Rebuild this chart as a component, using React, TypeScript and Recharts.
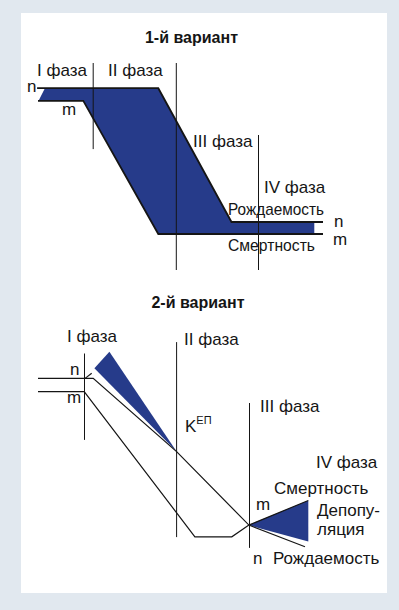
import React from 'react'
import { ComposedChart, Line, Area, XAxis, YAxis, ReferenceLine } from 'recharts'

// t = time (conventional units), rate = birth / death rate (conventional units)
const birthV1 = [
  { t: 11.7, rate: 60.6 }, { t: 52.1, rate: 60.6 }, { t: 76.5, rate: 16 }, { t: 107, rate: 16 },
]
const deathV1 = [
  { t: 12, rate: 56.4 }, { t: 27.1, rate: 56.4 }, { t: 52.1, rate: 12 }, { t: 107, rate: 12 },
]
// natural growth band between death (low) and birth (high)
const growthV1 = [
  { t: 12.2, band: [56.4, 56.4] }, { t: 14.3, band: [56.4, 60.6] }, { t: 27.1, band: [56.4, 60.6] },
  { t: 52.1, band: [12, 60.6] }, { t: 76.5, band: [12, 16] }, { t: 104.1, band: [12, 16] },
]
const phasesV1 = [
  { t: 30.4, from: 40.3, to: 69 },
  { t: 58.1, from: 0, to: 69 },
  { t: 85.5, from: 0, to: 45 },
]

const birthV2 = [
  { t: 12, rate: 67.2 }, { t: 30.4, rate: 67.2 }, { t: 58.2, rate: 42.8 }, { t: 82.3, rate: 18.3 }, { t: 101, rate: 11.1 },
]
const deathV2 = [
  { t: 12, rate: 62.8 }, { t: 27.4, rate: 62.8 }, { t: 64.3, rate: 14.4 }, { t: 76.6, rate: 14.4 },
  { t: 82.3, rate: 18.3 }, { t: 102.1, rate: 26.5 },
]
const boomV2 = [
  { t: 30.8, band: [70.6, 70.6] }, { t: 35.8, band: [65.5, 76.1] }, { t: 58.2, band: [42.8, 42.8] },
]
const depopV2 = [
  { t: 82.1, band: [18.3, 18.3] }, { t: 102.1, band: [12.8, 26.5] },
]
const tickV2 = [{ t: 27.7, rate: 67.2 }, { t: 29.9, rate: 68.9 }]
const phasesV2 = [
  { t: 27.5, from: 46.7, to: 75.5 },
  { t: 58.2, from: 14.3, to: 79.3 },
  { t: 82.5, from: 10.7, to: 59 },
]

const BG = '#e1e8ef'
const BLUE = '#263b8a'
const INK = '#151515'
const FONT = '"Liberation Sans", Arial, Helvetica, sans-serif'

type Pt = { t: number; rate: number }
type Band = { t: number; band: number[] }
type Phase = { t: number; from: number; to: number }

function Scheme({ top, height, yMax, lines, bands, phases, lineWidth }: {
  top: number; height: number; yMax: number; lines: Pt[][]; bands: Band[][]; phases: Phase[]; lineWidth: number
}) {
  return (
    <div style={{ position: 'absolute', left: 0, top, width: 399, height }}>
      <ComposedChart width={399} height={height} margin={{ top: 0, right: 7, bottom: 0, left: 2 }}>
        <XAxis type="number" dataKey="t" domain={[0, 130]} allowDataOverflow hide />
        <YAxis type="number" domain={[0, yMax]} allowDataOverflow hide />
        {bands.map((b, i) => (
          <Area key={'b' + i} data={b} dataKey="band" type="linear" stroke="none" fill={BLUE} fillOpacity={1} isAnimationActive={false} />
        ))}
        {phases.map((p, i) => (
          <ReferenceLine key={'p' + i} segment={[{ x: p.t, y: p.from }, { x: p.t, y: p.to }]} stroke={INK} strokeWidth={1} ifOverflow="visible" />
        ))}
        {lines.map((l, i) => (
          <Line key={'l' + i} data={l} dataKey="rate" type="linear" stroke={INK} strokeWidth={lineWidth} dot={false} isAnimationActive={false} />
        ))}
      </ComposedChart>
    </div>
  )
}

const txt = { fontFamily: FONT, fontSize: 17, fill: INK }

export default function App() {
  return (
    <div style={{ position: 'absolute', left: 0, top: 0, width: 399, height: 610, background: BG, overflow: 'hidden' }}>
      <div style={{ position: 'absolute', left: 21, top: 13, width: 366, height: 580, background: '#fff' }} />
      <Scheme top={0} height={270} yMax={90} lines={[birthV1, deathV1]} bands={[growthV1]} phases={phasesV1} lineWidth={1.8} />
      <Scheme top={280} height={300} yMax={100} lines={[birthV2, deathV2, tickV2]} bands={[boomV2, depopV2]} phases={phasesV2} lineWidth={1.2} />
      <svg width={399} height={610} style={{ position: 'absolute', left: 0, top: 0, pointerEvents: 'none' }}>
        <g style={txt as any}>
          <text x={191.5} y={43} textAnchor="middle" fontWeight="bold" fontSize={16}>1-й вариант</text>
          <text x={37} y={76}>I фаза</text>
          <text x={108} y={76}>II фаза</text>
          <text x={27} y={92}>n</text>
          <text x={62} y={115}>m</text>
          <text x={193} y={147}>III фаза</text>
          <text x={264} y={193}>IV фаза</text>
          <text x={228} y={215} textLength={96} lengthAdjust="spacingAndGlyphs">Рождаемость</text>
          <text x={334} y={227}>n</text>
          <text x={333} y={245}>m</text>
          <text x={228} y={251} textLength={87} lengthAdjust="spacingAndGlyphs">Смертность</text>

          <text x={198} y={308} textAnchor="middle" fontWeight="bold" fontSize={16}>2-й вариант</text>
          <text x={67} y={342}>I фаза</text>
          <text x={184} y={345}>II фаза</text>
          <text x={70} y={375}>n</text>
          <text x={67} y={403}>m</text>
          <text x={185} y={432}>K<tspan fontSize={11} dy={-8}>ЕП</tspan></text>
          <text x={260} y={412}>III фаза</text>
          <text x={316} y={468}>IV фаза</text>
          <text x={274} y={494}>Смертность</text>
          <text x={256} y={510}>m</text>
          <text x={317} y={516}>Депопу-</text>
          <text x={317} y={535}>ляция</text>
          <text x={253} y={564}>n</text>
          <text x={273} y={564}>Рождаемость</text>
        </g>
      </svg>
    </div>
  )
}
